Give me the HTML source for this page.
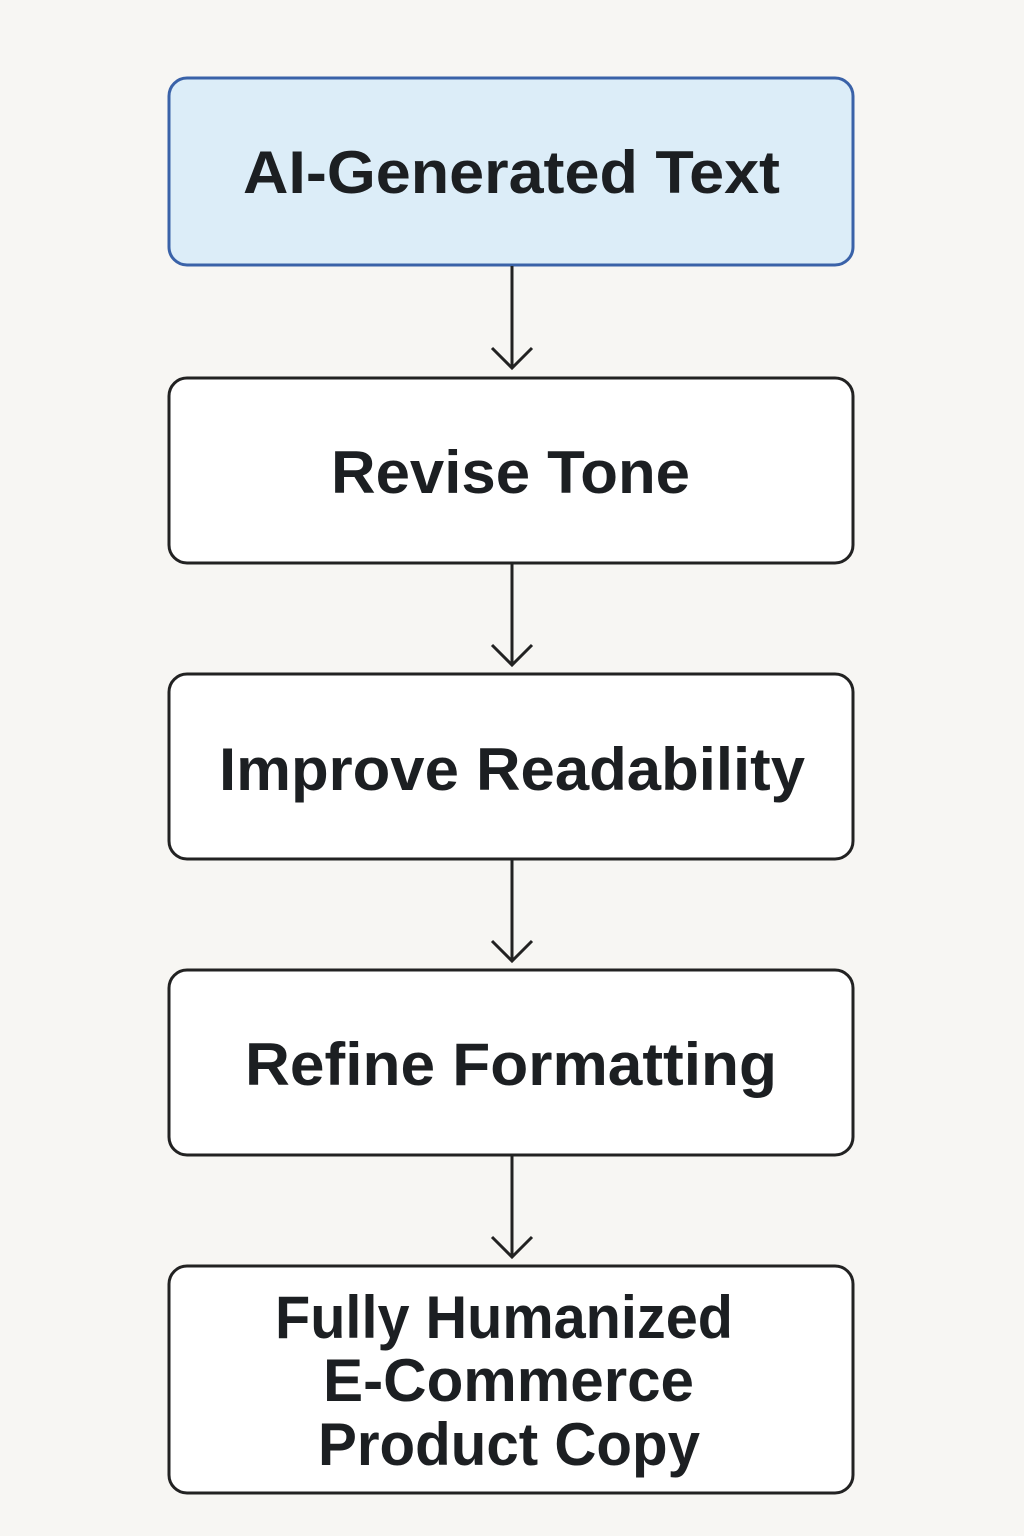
<!DOCTYPE html>
<html><head><meta charset="utf-8"><style>
html,body{margin:0;padding:0;background:#f7f6f3;}
svg{display:block;}
text{font-family:"Liberation Sans",sans-serif;font-weight:bold;fill:#1c1f22;}
</style></head><body>
<svg width="1024" height="1536" viewBox="0 0 1024 1536" xmlns="http://www.w3.org/2000/svg">
<rect width="1024" height="1536" fill="#f7f6f3"/>
<g stroke-width="3" fill="none" stroke="#222">
<rect x="169" y="78" width="684" height="187" rx="18" fill="#dcedf8" stroke="#3a62a8"/>
<rect x="169" y="378" width="684" height="185" rx="18" fill="#fff"/>
<rect x="169" y="674" width="684" height="185" rx="18" fill="#fff"/>
<rect x="169" y="970" width="684" height="185" rx="18" fill="#fff"/>
<rect x="169" y="1266" width="684" height="227" rx="18" fill="#fff"/>
<path d="M512 266V368M492 348L512 368L532 348"/>
<path d="M512 564V665M492 645L512 665L532 645"/>
<path d="M512 860V961M492 941L512 961L532 941"/>
<path d="M512 1156V1257M492 1237L512 1257L532 1237"/>
</g>
<text x="243" y="193" font-size="60" textLength="537" lengthAdjust="spacingAndGlyphs">AI-Generated Text</text>
<text x="331" y="493" font-size="60" textLength="359" lengthAdjust="spacingAndGlyphs">Revise Tone</text>
<text x="219" y="790" font-size="60" textLength="586" lengthAdjust="spacingAndGlyphs">Improve Readability</text>
<text x="245" y="1085" font-size="60" textLength="532" lengthAdjust="spacingAndGlyphs">Refine Formatting</text>
<text x="275" y="1338" font-size="60" textLength="458" lengthAdjust="spacingAndGlyphs">Fully Humanized</text>
<text x="323" y="1401" font-size="60" textLength="371" lengthAdjust="spacingAndGlyphs">E-Commerce</text>
<text x="318" y="1465" font-size="60" textLength="382" lengthAdjust="spacingAndGlyphs">Product Copy</text>
</svg>
</body></html>
